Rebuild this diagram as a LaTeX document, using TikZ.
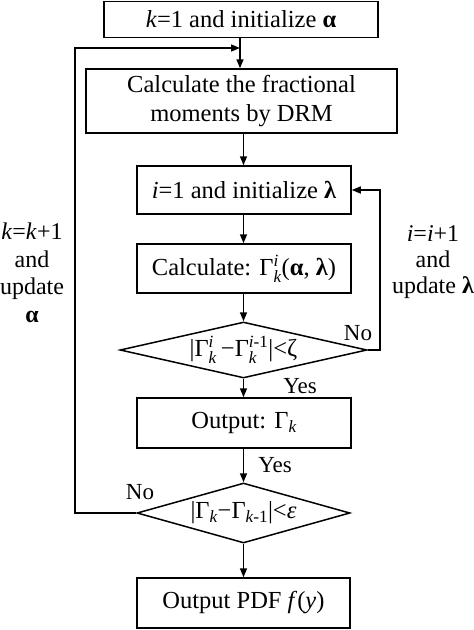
\documentclass[tikz,border=0pt]{standalone}
\usepackage{fontspec}
\usepackage{amsmath}
\setmainfont{Liberation Serif}
\usetikzlibrary{arrows.meta,shapes.geometric}
\newcommand\ik{\text{\itshape k}}
\newcommand\ii{\text{\itshape i}}
\begin{document}
\begin{tikzpicture}[x=1pt,y=-1pt,
  every node/.style={font=\fontsize{24.5}{29}\selectfont},
  box/.style={draw, line width=1.5pt, inner sep=0pt, align=center},
  dia/.style={draw, diamond, line width=1.5pt, inner sep=0pt, aspect=4},
  arr/.style={line width=1.5pt, -{Triangle[length=9pt,width=7pt]}},
  lbl/.style={font=\fontsize{23}{26}\selectfont, inner sep=0pt},
]
\useasboundingbox (0,0) rectangle (474,630);
\node[box, minimum width=274pt, minimum height=36pt] (b1) at (241,19.5) {\textit{k}=1 and initialize \textbf{α}};
\node[box, minimum width=311pt, minimum height=64pt] (b2) at (241.5,101) {Calculate the fractional\\moments by DRM};
\node[box, minimum width=214pt, minimum height=48pt] (b3) at (244,190) {\textit{i}=1 and initialize \textbf{λ}};
\node[box, minimum width=214pt, minimum height=49pt] (b4) at (244,268.5) {Calculate: Γ$_{\ik}^{\ii}$(\textbf{α}, \textbf{λ})};
\node[dia, minimum width=247pt, minimum height=56pt] (d1) at (243.5,350) {\makebox[0pt]{|Γ$_{\ik}^{\ii}$\,−Γ$_{\ik}^{\text{\itshape i\upshape -1}}$|<ζ}};
\node[box, minimum width=214pt, minimum height=50pt] (b5) at (244,423) {Output: Γ$_{\ik}$};
\node[dia, minimum width=213pt, minimum height=60pt] (d2) at (243.5,513) {\makebox[0pt]{|Γ$_{\ik}$−Γ$_{\text{\itshape k\upshape -1}}$|<\textit{ε}}};
\node[box, minimum width=213pt, minimum height=50pt] (b6) at (243.5,603) {Output PDF \textit{f}(\textit{y})};

\coordinate (J) at (240,48);
\coordinate (L) at (75,48);
\coordinate (R) at (380,190);
\coordinate (M) at (243.5,0);

\draw[arr] (b1.south -| J) -- (b2.north -| J);
\draw[arr] (b2.south -| M) -- (b3.north -| M);
\draw[arr] (b3.south -| M) -- (b4.north -| M);
\draw[arr] (b4.south -| M) -- (d1.north);
\draw[arr] (d1.south) -- (b5.north -| M);
\draw[arr] (b5.south -| M) -- (d2.north);
\draw[arr] (d2.south) -- (b6.north);
\draw[arr] (d1.east) -| (R) -- (b3.east);
\draw[arr] (d2.west) -| (L) -- (J);

\node[lbl] (y1) at (300,386) {Yes};
\node[lbl] (y2) at (275,465) {Yes};
\node[lbl] (n1) at (358,333) {No};
\node[lbl] (n2) at (140,492) {No};
\node[lbl, align=center, font=\fontsize{24}{26}\selectfont] (rl) at (433,262) {\textit{i}=\textit{i}+1\\and\\update \textbf{λ}};
\node[lbl, align=center, font=\fontsize{24}{27.5}\selectfont] (ll) at (32,273) {\textit{k}=\textit{k}+1\\and\\update\\\textbf{α}};
\end{tikzpicture}
\end{document}
